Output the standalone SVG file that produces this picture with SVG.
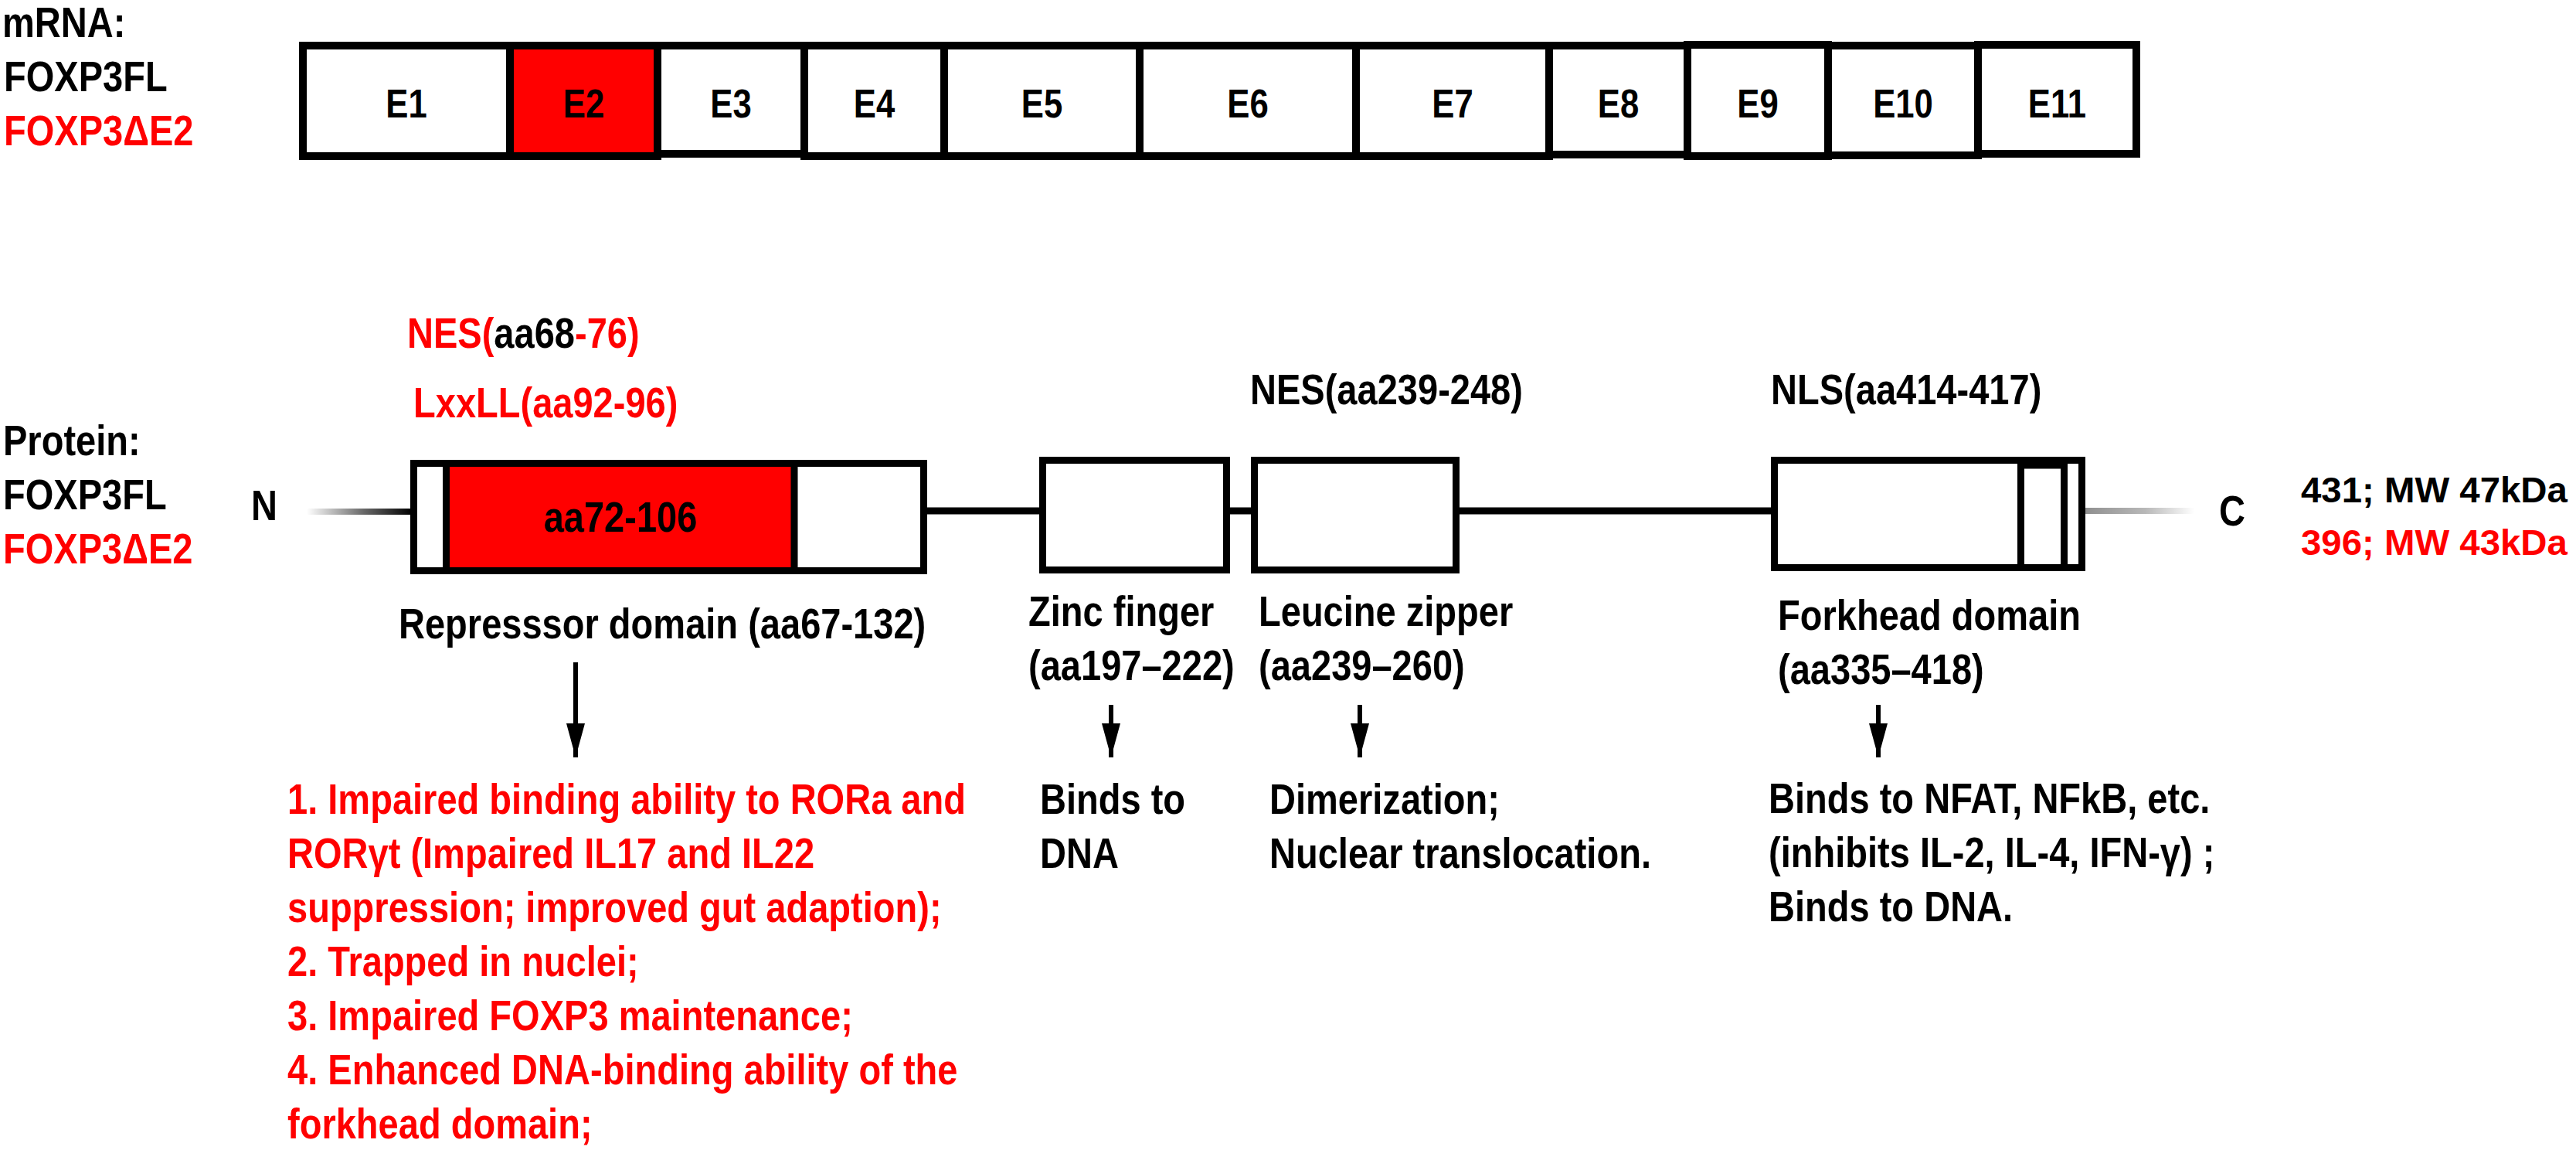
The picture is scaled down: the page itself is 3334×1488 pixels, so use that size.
<svg xmlns="http://www.w3.org/2000/svg" width="3334" height="1488" viewBox="0 0 3334 1488">
<style>
.t{font-family:"Liberation Sans",Arial,sans-serif;font-weight:bold;font-size:56px;fill:#000}
.r{fill:#ff0000}
.k{fill:#000}
.ex{font-size:52px}
.box{fill:#fff;stroke:#000;stroke-width:10}
.bx{fill:#fff;stroke:#000;stroke-width:9}
.red{fill:#ff0000}
.div{stroke:#000;stroke-width:9}
.bb{stroke:#000;stroke-width:9;fill:none}
.arr{stroke:#000;stroke-width:6;fill:none;marker-end:url(#ah)}
</style>
<defs>
<linearGradient id="gN" x1="0" y1="0" x2="1" y2="0">
<stop offset="0" stop-color="#ffffff"/>
<stop offset="0.55" stop-color="#666666"/>
<stop offset="1" stop-color="#000000"/>
</linearGradient>
<linearGradient id="gC" x1="0" y1="0" x2="1" y2="0">
<stop offset="0" stop-color="#909090"/>
<stop offset="0.55" stop-color="#b8b8b8"/>
<stop offset="1" stop-color="#ffffff"/>
</linearGradient>
<marker id="ah" markerUnits="userSpaceOnUse" markerWidth="44" markerHeight="24" refX="44" refY="12" orient="auto">
<path d="M0,0 L44,12 L0,24 Z" fill="#000"/>
</marker>
</defs>
<rect width="3334" height="1488" fill="#fff"/>

<g id="mrna-labels">
<text class="t" transform="matrix(.84 0 0 1 3 48)">mRNA:</text>
<text class="t" transform="matrix(.84 0 0 1 5 118)">FOXP3FL</text>
<text class="t r" transform="matrix(.84 0 0 1 5 188)">FOXP3ΔE2</text>
</g>

<g id="exons">
<g id="E1"><rect class="box" x="392" y="59" width="268" height="143"/><text class="t ex" text-anchor="middle" transform="matrix(.84 0 0 1 526 152)">E1</text></g>
<g id="E2"><rect class="box" x="660" y="59" width="191" height="143" style="fill:#ff0000"/><text class="t ex" text-anchor="middle" transform="matrix(.84 0 0 1 755.5 152)">E2</text></g>
<g id="E3"><rect class="box" x="851" y="59" width="190" height="140"/><text class="t ex" text-anchor="middle" transform="matrix(.84 0 0 1 946 152)">E3</text></g>
<g id="E4"><rect class="box" x="1041" y="59" width="181" height="143"/><text class="t ex" text-anchor="middle" transform="matrix(.84 0 0 1 1131.5 152)">E4</text></g>
<g id="E5"><rect class="box" x="1222" y="59" width="253" height="143"/><text class="t ex" text-anchor="middle" transform="matrix(.84 0 0 1 1348.5 152)">E5</text></g>
<g id="E6"><rect class="box" x="1475" y="59" width="280" height="143"/><text class="t ex" text-anchor="middle" transform="matrix(.84 0 0 1 1615 152)">E6</text></g>
<g id="E7"><rect class="box" x="1755" y="59" width="250" height="143"/><text class="t ex" text-anchor="middle" transform="matrix(.84 0 0 1 1880 152)">E7</text></g>
<g id="E8"><rect class="box" x="2005" y="59" width="179" height="141"/><text class="t ex" text-anchor="middle" transform="matrix(.84 0 0 1 2094.5 152)">E8</text></g>
<g id="E9"><rect class="box" x="2184" y="58" width="182" height="144"/><text class="t ex" text-anchor="middle" transform="matrix(.84 0 0 1 2275 152)">E9</text></g>
<g id="E10"><rect class="box" x="2366" y="59" width="194" height="142"/><text class="t ex" text-anchor="middle" transform="matrix(.84 0 0 1 2463 152)">E10</text></g>
<g id="E11"><rect class="box" x="2560" y="58" width="205" height="141"/><text class="t ex" text-anchor="middle" transform="matrix(.84 0 0 1 2662.5 152)">E11</text></g>
</g>

<g id="protein-labels">
<text class="t" transform="matrix(.84 0 0 1 4 589)">Protein:</text>
<text class="t" transform="matrix(.84 0 0 1 4 659)">FOXP3FL</text>
<text class="t r" transform="matrix(.84 0 0 1 4 729)">FOXP3ΔE2</text>
<text class="t" transform="matrix(.84 0 0 1 325 673)">N</text>
<text class="t" transform="matrix(.84 0 0 1 2872 680)">C</text>
<text class="t" style="font-size:46px" transform="matrix(1.03 0 0 1 2978 650)">431; MW 47kDa</text>
<text class="t r" style="font-size:46px" transform="matrix(1.03 0 0 1 2978 718)">396; MW 43kDa</text>
</g>

<g id="connectors">
<rect x="397" y="658" width="136" height="8" fill="url(#gN)"/>
<line class="bb" x1="1200" y1="661" x2="1345" y2="661"/>
<line class="bb" x1="1592" y1="661" x2="1619" y2="661"/>
<line class="bb" x1="1889" y1="661" x2="2292" y2="661"/>
<rect x="2699" y="657" width="141" height="8" fill="url(#gC)"/>
<line class="arr" x1="745" y1="857" x2="745" y2="980"/>
<line class="arr" x1="1438" y1="912" x2="1438" y2="980"/>
<line class="arr" x1="1760" y1="912" x2="1760" y2="980"/>
<line class="arr" x1="2431" y1="912" x2="2431" y2="980"/>
</g>

<g id="repressor">
<text class="t" transform="matrix(.84 0 0 1 527 450)"><tspan class="r">NES(</tspan><tspan class="k">aa68</tspan><tspan class="r">-76)</tspan></text>
<text class="t r" transform="matrix(.84 0 0 1 535 540)">LxxLL(aa92-96)</text>
<rect class="bx" x="535.5" y="599.5" width="660" height="139"/>
<rect class="red" x="582" y="604" width="442" height="130"/>
<line class="div" x1="577.5" y1="604" x2="577.5" y2="734"/>
<line class="div" x1="1028" y1="604" x2="1028" y2="734"/>
<text class="t" text-anchor="middle" transform="matrix(.84 0 0 1 803 688)">aa72-106</text>
<text class="t" transform="matrix(.84 0 0 1 516 826)">Represssor domain (aa67-132)</text>
<text class="t r" transform="matrix(.84 0 0 1 372 1053)">1. Impaired binding ability to RORa and</text>
<text class="t r" transform="matrix(.84 0 0 1 372 1123)">RORγt (Impaired IL17 and IL22</text>
<text class="t r" transform="matrix(.84 0 0 1 372 1193)">suppression; improved gut adaption);</text>
<text class="t r" transform="matrix(.84 0 0 1 372 1263)">2. Trapped in nuclei;</text>
<text class="t r" transform="matrix(.84 0 0 1 372 1333)">3. Impaired FOXP3 maintenance;</text>
<text class="t r" transform="matrix(.84 0 0 1 372 1403)">4. Enhanced DNA-binding ability of the</text>
<text class="t r" transform="matrix(.84 0 0 1 372 1473)">forkhead domain;</text>
</g>

<g id="zinc-finger">
<rect class="bx" x="1349.5" y="595.5" width="238" height="142"/>
<text class="t" transform="matrix(.84 0 0 1 1331 810)">Zinc finger</text>
<text class="t" transform="matrix(.84 0 0 1 1331 880)">(aa197–222)</text>
<text class="t" transform="matrix(.84 0 0 1 1346 1053)">Binds to</text>
<text class="t" transform="matrix(.84 0 0 1 1346 1123)">DNA</text>
</g>

<g id="leucine-zipper">
<text class="t" transform="matrix(.84 0 0 1 1618 523)">NES(aa239-248)</text>
<rect class="bx" x="1623.5" y="595.5" width="261" height="142"/>
<text class="t" transform="matrix(.84 0 0 1 1629 810)">Leucine zipper</text>
<text class="t" transform="matrix(.84 0 0 1 1629 880)">(aa239–260)</text>
<text class="t" transform="matrix(.84 0 0 1 1643 1053)">Dimerization;</text>
<text class="t" transform="matrix(.84 0 0 1 1643 1123)">Nuclear translocation.</text>
</g>

<g id="forkhead">
<text class="t" transform="matrix(.84 0 0 1 2292 523)">NLS(aa414-417)</text>
<rect class="bx" x="2296.5" y="595.5" width="398" height="139"/>
<line class="div" x1="2615.5" y1="600" x2="2615.5" y2="735"/>
<line class="div" x1="2671.5" y1="600" x2="2671.5" y2="735"/>
<line class="div" x1="2620" y1="602" x2="2667" y2="602"/>
<text class="t" transform="matrix(.84 0 0 1 2301 815)">Forkhead domain</text>
<text class="t" transform="matrix(.84 0 0 1 2301 885)">(aa335–418)</text>
<text class="t" transform="matrix(.84 0 0 1 2289 1052)">Binds to NFAT, NFkB, etc.</text>
<text class="t" transform="matrix(.84 0 0 1 2289 1122)">(inhibits IL-2, IL-4, IFN-γ) ;</text>
<text class="t" transform="matrix(.84 0 0 1 2289 1192)">Binds to DNA.</text>
</g>
</svg>
